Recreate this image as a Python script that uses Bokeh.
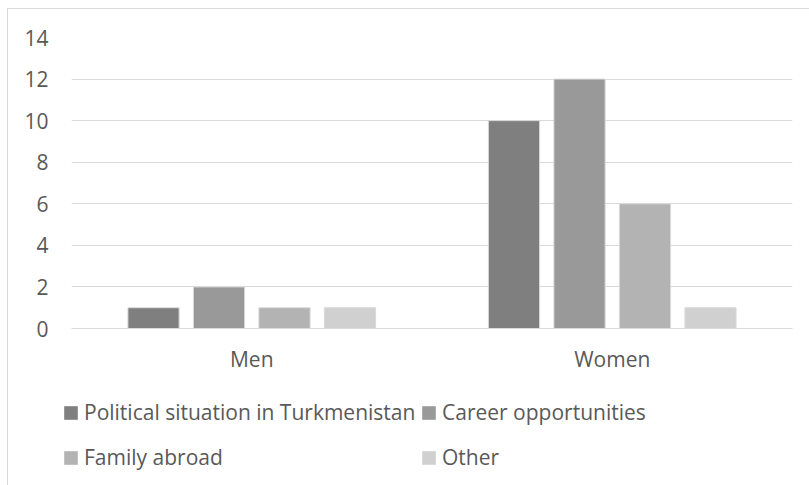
from bokeh.plotting import figure
from bokeh.layouts import column
from bokeh.models import (FactorRange, Range1d, FixedTicker, Legend, LegendItem,
                          ColumnDataSource)
from bokeh.transform import dodge
from bokeh.embed import file_html
from bokeh.resources import INLINE

# ---- data ----
categories = ["Men", "Women"]
series_names = ["Political situation in Turkmenistan", "Career opportunities",
                "Family abroad", "Other"]
political = [1, 10]
career = [2, 12]
family = [1, 6]
other = [1, 1]
y_ticks = [0, 2, 4, 6, 8, 10, 12, 14]

colors = ["#7f7f7f", "#999999", "#b3b3b3", "#d0d0d0"]
offsets = [-0.2725, -0.0908, 0.0908, 0.2725]
FONT = "Open Sans"
TXT = "#595959"
FS = "21px"
keys = ["s0", "s1", "s2", "s3"]

src = ColumnDataSource(dict(cat=categories, s0=political, s1=career, s2=family, s3=other))

# ---- main chart ----
p = figure(x_range=FactorRange(*categories), y_range=Range1d(0, 14),
           width=801, height=376, output_backend="svg", toolbar_location=None,
           min_border_left=63, min_border_right=17, min_border_top=28,
           min_border_bottom=57)
p.outline_line_color = None
p.background_fill_color = "white"
p.border_fill_color = "white"

for i, key in enumerate(keys):
    p.vbar(x=dodge("cat", offsets[i], range=p.x_range), top=key, width=0.142,
           source=src, fill_color=colors[i], line_color="#dadada", line_width=1)

p.yaxis.ticker = FixedTicker(ticks=y_ticks)
p.yaxis.axis_line_color = None
p.yaxis.major_tick_line_color = None
p.yaxis.minor_tick_line_color = None
p.yaxis.major_tick_out = 0
p.yaxis.major_tick_in = 0
p.yaxis.major_label_standoff = 23
p.yaxis.major_label_text_font = FONT
p.yaxis.major_label_text_font_size = FS
p.yaxis.major_label_text_color = TXT

p.xaxis.axis_line_color = "#d9d9d9"
p.xaxis.major_tick_line_color = None
p.xaxis.minor_tick_line_color = None
p.xaxis.major_tick_out = 0
p.xaxis.major_tick_in = 0
p.xaxis.major_label_standoff = 16
p.xaxis.major_label_text_font = FONT
p.xaxis.major_label_text_font_size = FS
p.xaxis.major_label_text_color = TXT

p.xgrid.grid_line_color = None
p.ygrid.grid_line_color = "#d9d9d9"
p.ygrid.grid_line_width = 1

# ---- legend strip (its bars are out of view; only the legend shows) ----
lf = figure(width=801, height=100, output_backend="svg", toolbar_location=None,
            x_range=FactorRange(*categories), y_range=Range1d(100, 101),
            min_border_left=0, min_border_right=0, min_border_top=0,
            min_border_bottom=0, x_axis_location=None, y_axis_location=None)
lf.outline_line_color = None
lf.xgrid.visible = False
lf.ygrid.visible = False
lf.background_fill_alpha = 0
lf.border_fill_alpha = 0
lf.styles = {"transform": "translateX(-9px)"}

locs = [(0, 59), (358, 59), (0, 14), (358, 14)]
for i, key in enumerate(keys):
    r = lf.vbar(x="cat", top=key, width=0.1, source=src,
                fill_color=colors[i], line_color=None)
    leg = Legend(items=[LegendItem(label=series_names[i], renderers=[r])],
                 location=locs[i], padding=0, margin=0, spacing=0,
                 label_standoff=5, glyph_width=17, glyph_height=17, label_height=17,
                 border_line_color=None, background_fill_alpha=0,
                 label_text_font=FONT, label_text_font_size=FS,
                 label_text_color=TXT)
    lf.add_layout(leg, "center")

layout = column(p, lf, spacing=0, margin=(8, 0, 0, 7),
                styles={"border-left": "1px solid #d9d9d9",
                        "border-top": "1px solid #d9d9d9"})

open("out.html", "w").write(file_html(layout, INLINE))
